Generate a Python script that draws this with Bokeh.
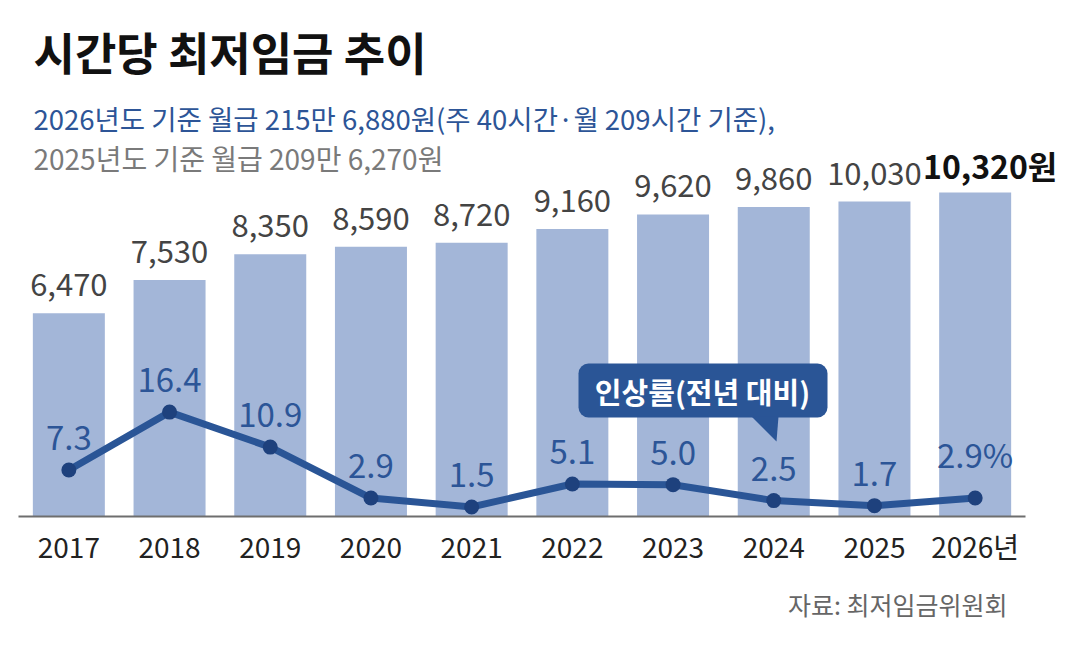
from bokeh.plotting import figure
from bokeh.models import (Range1d, Label, BoxAnnotation, PolyAnnotation, ColumnDataSource,
                          FixedTicker, Title)
from bokeh.core.properties import value
from bokeh.embed import file_html
from bokeh.resources import INLINE

# ---- data ----
years = [2017, 2018, 2019, 2020, 2021, 2022, 2023, 2024, 2025, 2026]
year_tick_labels = ["2017", "2018", "2019", "2020", "2021", "2022", "2023", "2024", "2025", "2026년"]
min_wage = [6470, 7530, 8350, 8590, 8720, 9160, 9620, 9860, 10030, 10320]
raise_rate = [7.3, 16.4, 10.9, 2.9, 1.5, 5.1, 5.0, 2.5, 1.7, 2.9]

title_text = "시간당 최저임금 추이"
subtitle_1 = "2026년도 기준 월급 215만 6,880원(주 40시간·월 209시간 기준),"
subtitle_2 = "2025년도 기준 월급 209만 6,270원"
callout_text = "인상률(전년 대비)"
source_text = "자료: 최저임금위원회"

FONT = "Noto Sans CJK KR"
BAR_COLOR = "#a3b6d8"
LINE_COLOR = "#2a5596"
DOT_COLOR = "#1e417d"
RATE_TEXT = "#2c5597"

wage_labels = [f"{v:,}" for v in min_wage]
wage_labels[-1] = wage_labels[-1] + "원"
rate_labels = [f"{v:.1f}" for v in raise_rate]
rate_labels[-1] = rate_labels[-1] + "%"

src = ColumnDataSource(dict(year=years, wage=min_wage, rate=raise_rate, rlab=rate_labels))
src_main = ColumnDataSource(dict(year=years[:-1], wage=min_wage[:-1], wlab=wage_labels[:-1]))
src_last = ColumnDataSource(dict(year=years[-1:], wage=min_wage[-1:], wlab=wage_labels[-1:]))

x_start = years[0] - 0.5
p = figure(
    x_range=Range1d(x_start, x_start + 10.417),
    y_range=Range1d(0, 16180),
    frame_width=1049, frame_height=508,
    min_border_left=18, min_border_right=0, min_border_top=8, min_border_bottom=125,
    y_axis_location=None, toolbar_location=None, output_backend="svg",
)
p.extra_y_ranges = {"rate": Range1d(0, 79.8)}
p.outline_line_color = None
p.xgrid.grid_line_color = None
p.ygrid.grid_line_color = None
p.background_fill_color = "white"
p.border_fill_color = "white"

# bars
p.vbar(x="year", top="wage", width=0.715, source=src, color=BAR_COLOR, line_color=None)

# bar labels
p.text(x="year", y="wage", text="wlab", source=src_main, text_align="center",
       text_baseline="bottom", y_offset=-17, text_font=value(FONT),
       text_font_size="31px", text_color="#444444")
p.text(x="year", y="wage", text="wlab", source=src_last, text_align="center",
       text_baseline="bottom", y_offset=-4, x_offset=15, text_font=value(FONT),
       text_font_size="32px", text_font_style="bold", text_color="#111111")

# rate line
p.line(x="year", y="rate", source=src, y_range_name="rate", line_width=7,
       line_color=LINE_COLOR, line_join="round")
p.scatter(x="year", y="rate", source=src, y_range_name="rate", size=15,
          fill_color=DOT_COLOR, line_color=None)
p.text(x="year", y="rate", text="rlab", source=src, y_range_name="rate",
       text_align="center", text_baseline="bottom", y_offset=-20,
       text_font=value(FONT), text_font_size="33px", text_color=RATE_TEXT)

# x axis
ax = p.xaxis[0]
ax.ticker = FixedTicker(ticks=years)
ax.bounds = (x_start, years[-1] + 0.5)
ax.axis_line_color = "#6e6e6e"
ax.axis_line_width = 2
ax.major_tick_line_color = None
ax.minor_tick_line_color = None
ax.major_label_text_font = FONT
ax.major_label_text_font_size = "28px"
ax.major_label_text_color = "#222222"
ax.major_label_standoff = 3
ax.major_label_overrides = dict(zip(years, year_tick_labels))

# source line
p.add_layout(Title(text=source_text, align="right", offset=60, standoff=30,
                   text_font=FONT, text_font_size="25px", text_font_style="normal",
                   text_color="#666666"), "below")

# titles (screen units, relative to the frame)
p.add_layout(Label(x=15, y=465, x_units="screen", y_units="screen", text=title_text,
                   text_font=FONT, text_font_size="45px", text_font_style="bold",
                   text_color="#111111", text_baseline="middle"))
p.add_layout(Label(x=15, y=399, x_units="screen", y_units="screen", text=subtitle_1,
                   text_font=FONT, text_font_size="27.5px", text_color="#2d5597",
                   text_baseline="middle"))
p.add_layout(Label(x=15, y=359, x_units="screen", y_units="screen", text=subtitle_2,
                   text_font=FONT, text_font_size="28px", text_color="#7a7a7a",
                   text_baseline="middle"))

# callout
p.add_layout(BoxAnnotation(left=560, right=809, bottom=99, top=153,
                           left_units="screen", right_units="screen",
                           top_units="screen", bottom_units="screen",
                           fill_color=LINE_COLOR, fill_alpha=1, line_color=None,
                           border_radius=10))
p.add_layout(PolyAnnotation(xs=[733, 760, 758], ys=[100, 100, 75],
                            xs_units="screen", ys_units="screen",
                            fill_color=LINE_COLOR, fill_alpha=1, line_color=None))
p.add_layout(Label(x=684, y=126, x_units="screen", y_units="screen", text=callout_text,
                   text_font=FONT, text_font_size="29px", text_font_style="bold",
                   text_color="white", text_align="center", text_baseline="middle"))

open("out.html", "w").write(file_html(p, INLINE))
